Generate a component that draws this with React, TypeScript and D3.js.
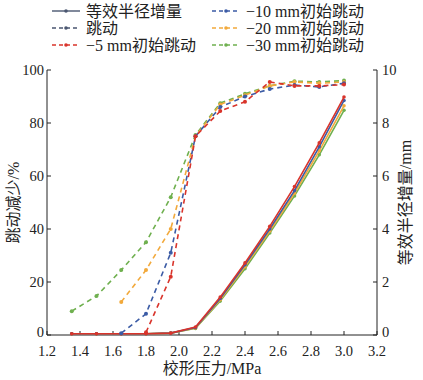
import React from "react";
import * as d3 from "d3";

const pressure = [1.35, 1.5, 1.65, 1.8, 1.95, 2.1, 2.25, 2.4, 2.55, 2.7, 2.85, 3.0];
const seriesNames = ["−5 mm初始跳动", "−10 mm初始跳动", "−20 mm初始跳动", "−30 mm初始跳动"];
const seriesColors = ["#d9342b", "#3b5ba5", "#f2a93b", "#6fb04f"];
// jitter reduction (%) – null where absent
const jitter5 = [null, null, null, 1, 22, 75, 84.5, 88, 95.5, 94, 94, 94.5];
const jitter10 = [null, null, 0.7, 8, 31, 75, 86, 90, 92.8, 94.3, 93.6, 95];
const jitter20 = [null, null, 12.5, 24.5, 40, 75, 87, 90.5, 94, 95.5, 95, 95.5];
const jitter30 = [9, 14.7, 24.5, 35, 52, 75.5, 87.5, 91, 94, 95.8, 95.5, 96];
// equivalent radius increase (mm)
const radius5 = [0.05, 0.05, 0.05, 0.05, 0.07, 0.3, 1.43, 2.72, 4.1, 5.6, 7.25, 8.98];
const radius10 = [0.05, 0.05, 0.05, 0.05, 0.07, 0.28, 1.38, 2.65, 4.0, 5.45, 7.1, 8.85];
const radius20 = [0.05, 0.05, 0.05, 0.05, 0.07, 0.26, 1.33, 2.58, 3.92, 5.35, 6.95, 8.65];
const radius30 = [0.05, 0.05, 0.05, 0.05, 0.07, 0.25, 1.28, 2.5, 3.85, 5.25, 6.8, 8.48];
const xTicks = [1.2, 1.4, 1.6, 1.8, 2.0, 2.2, 2.4, 2.6, 2.8, 3.0, 3.2];
const yLeftTicks = [0, 20, 40, 60, 80, 100];
const yRightTicks = [0, 2, 4, 6, 8, 10];

const jitterData = [jitter5, jitter10, jitter20, jitter30];
const radiusData = [radius5, radius10, radius20, radius30];

const W = 423, H = 380;
const L = 47, R = 377, T = 70, B = 335;
const FONT = "'Liberation Serif', 'Times New Roman', 'Noto Sans CJK SC', serif";

export default function App() {
  const x = d3.scaleLinear().domain([1.2, 3.2]).range([L, R]);
  const yL = d3.scaleLinear().domain([0, 100]).range([B, T]);
  const yR = d3.scaleLinear().domain([0, 10]).range([B, T]);

  const lineGen = (ys: (number | null)[], y: d3.ScaleLinear<number, number>) =>
    d3.line<[number, number | null]>()
      .defined(d => d[1] !== null)
      .x(d => x(d[0]))
      .y(d => y(d[1] as number))(pressure.map((p, i) => [p, ys[i]]));

  const legendCol1 = [
    { label: "等效半径增量", color: "#4a5670", dash: "" },
    { label: "跳动", color: "#4a5670", dash: "4,3" },
    { label: seriesNames[0], color: seriesColors[0], dash: "4,3" },
  ];
  const legendCol2 = [
    { label: seriesNames[1], color: seriesColors[1], dash: "4,3" },
    { label: seriesNames[2], color: seriesColors[2], dash: "4,3" },
    { label: seriesNames[3], color: seriesColors[3], dash: "4,3" },
  ];

  return (
    <svg width={W} height={H} style={{ position: "absolute", left: 0, top: 0, background: "#fff" }} fontFamily={FONT}>
      {/* legend */}
      {[legendCol1, legendCol2].map((col, ci) =>
        col.map((e, i) => {
          const lx = ci === 0 ? 52 : 212;
          const ly = 11 + i * 17;
          return (
            <g key={`${ci}-${i}`}>
              <line x1={lx} x2={lx + 28} y1={ly} y2={ly} stroke={e.color} strokeWidth={1.4} strokeDasharray={e.dash} />
              <circle cx={lx + 14} cy={ly} r={1.8} fill={e.color} />
              <text x={lx + 34} y={ly + 5.5} fontSize={16} fill="#222">{e.label}</text>
            </g>
          );
        })
      )}

      {/* axes */}
      <g stroke="#222" strokeWidth={1} fill="none">
        <line x1={L} x2={L} y1={T} y2={B} />
        <line x1={R} x2={R} y1={T} y2={B} />
        <line x1={L} x2={R} y1={B} y2={B} />
        {xTicks.map(t => <line key={t} x1={x(t)} x2={x(t)} y1={B} y2={B - 4} />)}
        {yLeftTicks.map(t => <line key={t} x1={L} x2={L + 4} y1={yL(t)} y2={yL(t)} />)}
        {yRightTicks.map(t => <line key={t} x1={R} x2={R - 4} y1={yR(t)} y2={yR(t)} />)}
      </g>
      {xTicks.map(t => (
        <text key={t} x={x(t)} y={B + 21} fontSize={14.5} textAnchor="middle" fill="#222">{t.toFixed(1)}</text>
      ))}
      {yLeftTicks.map(t => (
        <text key={t} x={L - 3} y={yL(t) + (t === 0 ? 2 : 5)} fontSize={14.5} textAnchor="end" fill="#222">{t}</text>
      ))}
      {yRightTicks.map(t => (
        <text key={t} x={R + 5} y={yR(t) + (t === 0 ? 2 : 5)} fontSize={14.5} textAnchor="start" fill="#222">{t}</text>
      ))}
      <text x={212} y={374} fontSize={16} textAnchor="middle" fill="#222">校形压力/MPa</text>
      <text transform={`translate(19,${(T + B) / 2}) rotate(-90)`} fontSize={16} textAnchor="middle" fill="#222">跳动减少/%</text>
      <text transform={`translate(411,${(T + B) / 2}) rotate(-90)`} fontSize={16} textAnchor="middle" fill="#222">等效半径增量/mm</text>

      {/* radius (solid) */}
      {radiusData.map((ys, si) => (
        <g key={`r${si}`}>
          <path d={lineGen(ys, yR) || ""} fill="none" stroke={seriesColors[si]} strokeWidth={1.6} />
          {ys.map((v, i) => <circle key={i} cx={x(pressure[i])} cy={yR(v)} r={1.8} fill={seriesColors[si]} />)}
        </g>
      )).reverse()}

      {/* jitter (dashed) */}
      {jitterData.map((ys, si) => (
        <g key={`j${si}`}>
          <path d={lineGen(ys, yL) || ""} fill="none" stroke={seriesColors[si]} strokeWidth={1.6} strokeDasharray="5,4" />
          {ys.map((v, i) => v === null ? null : <circle key={i} cx={x(pressure[i])} cy={yL(v)} r={2} fill={seriesColors[si]} />)}
        </g>
      )).reverse()}
    </svg>
  );
}
